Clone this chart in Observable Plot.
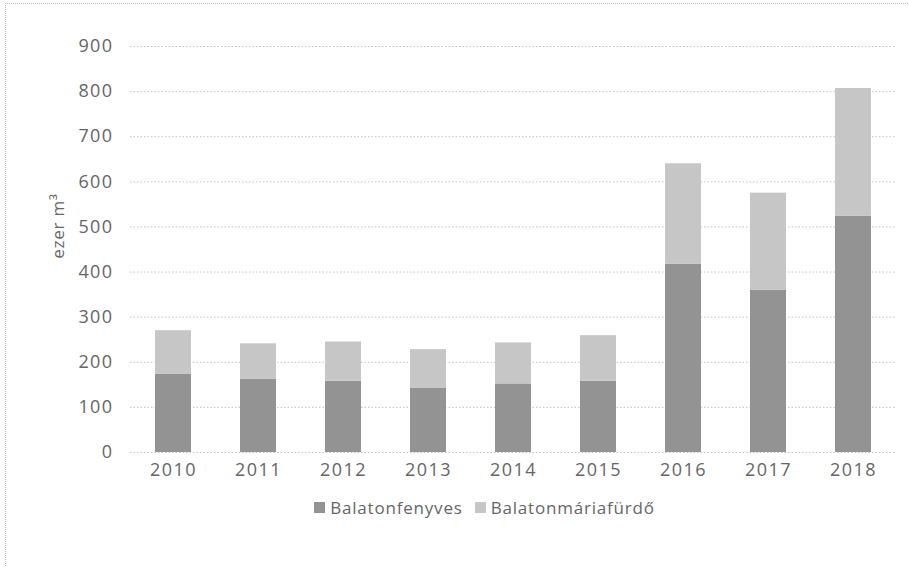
<!DOCTYPE html>
<html>
<head>
<meta charset="utf-8">
<script src="https://cdn.jsdelivr.net/npm/d3@7"></script>
<script src="https://cdn.jsdelivr.net/npm/@observablehq/plot@0.6"></script>
<style>
  body { margin: 0; background: #fff; font-family: "Open Sans", "Liberation Sans", sans-serif; }
  #wrap { position: relative; width: 909px; height: 567px; }
  #frame { position: absolute; left: 5px; top: 3px; width: 910px; height: 570px; border-left: 1px dotted #bbb; border-top: 1px dotted #bbb; pointer-events: none; }
  #legend { position: absolute; top: 495px; left: 0; width: 909px; text-align: center; font-size: 17px; letter-spacing: 0.8px; color: #666; padding-left: 60px; box-sizing: border-box; }
  #ylabel { position: absolute; left: 57px; top: 226px; transform: translate(-50%, -50%) rotate(-90deg); font-size: 17px; letter-spacing: 0.8px; color: #666; white-space: nowrap; }
  .item { display: inline-flex; align-items: center; margin: 0 6px; }
  .sw { width: 11px; height: 11px; margin-right: 5px; display: inline-block; }
</style>
</head>
<body>
<div id="wrap">
  <div id="chart"></div>
  <div id="ylabel">ezer m³</div>
  <div id="legend"></div>
  <div id="frame"></div>
</div>
<script>
const years = ["2010","2011","2012","2013","2014","2015","2016","2017","2018"];
const seriesNames = ["Balatonfenyves", "Balatonmáriafürdő"];
const balatonfenyves = [173, 162, 158, 143, 152, 158, 417, 360, 524];
const balatonmariafurdo = [97, 79, 87, 85, 91, 101, 223, 215, 283];
const colors = ["#939393", "#c6c6c6"];
const yTicks = [0,100,200,300,400,500,600,700,800,900];

const data = [];
years.forEach((y, i) => {
  data.push({year: y, series: seriesNames[0], value: balatonfenyves[i]});
  data.push({year: y, series: seriesNames[1], value: balatonmariafurdo[i]});
});

const chart = Plot.plot({
  width: 909,
  height: 485,
  marginTop: 46,
  marginBottom: 33,
  marginLeft: 130,
  marginRight: 14,
  style: { fontFamily: "Open Sans, Liberation Sans, sans-serif", fontSize: "18px", color: "#666", background: "transparent", letterSpacing: "1.4px" },
  x: { domain: years, paddingInner: 0.58, paddingOuter: 0.29, label: null },
  y: { domain: [0, 900], ticks: yTicks, label: null },
  color: { domain: seriesNames, range: colors },
  marks: [
    Plot.gridY(yTicks, { stroke: "#999", strokeOpacity: 0.6, strokeDasharray: "1.5,2" }),
    Plot.barY(data, { x: "year", y: "value", fill: "series", order: seriesNames }),
    Plot.axisX({ tickSize: 0, tickPadding: 11, fontSize: 18, fill: "#666", label: null }),
    Plot.axisY({ ticks: yTicks, tickSize: 0, tickPadding: 17, fontSize: 18, fill: "#666", label: null })
  ]
});
document.getElementById("chart").appendChild(chart);

const legend = document.getElementById("legend");
seriesNames.forEach((n, i) => {
  const it = document.createElement("span");
  it.className = "item";
  const sw = document.createElement("span");
  sw.className = "sw";
  sw.style.background = colors[i];
  it.appendChild(sw);
  it.appendChild(document.createTextNode(n));
  legend.appendChild(it);
});
</script>
</body>
</html>
